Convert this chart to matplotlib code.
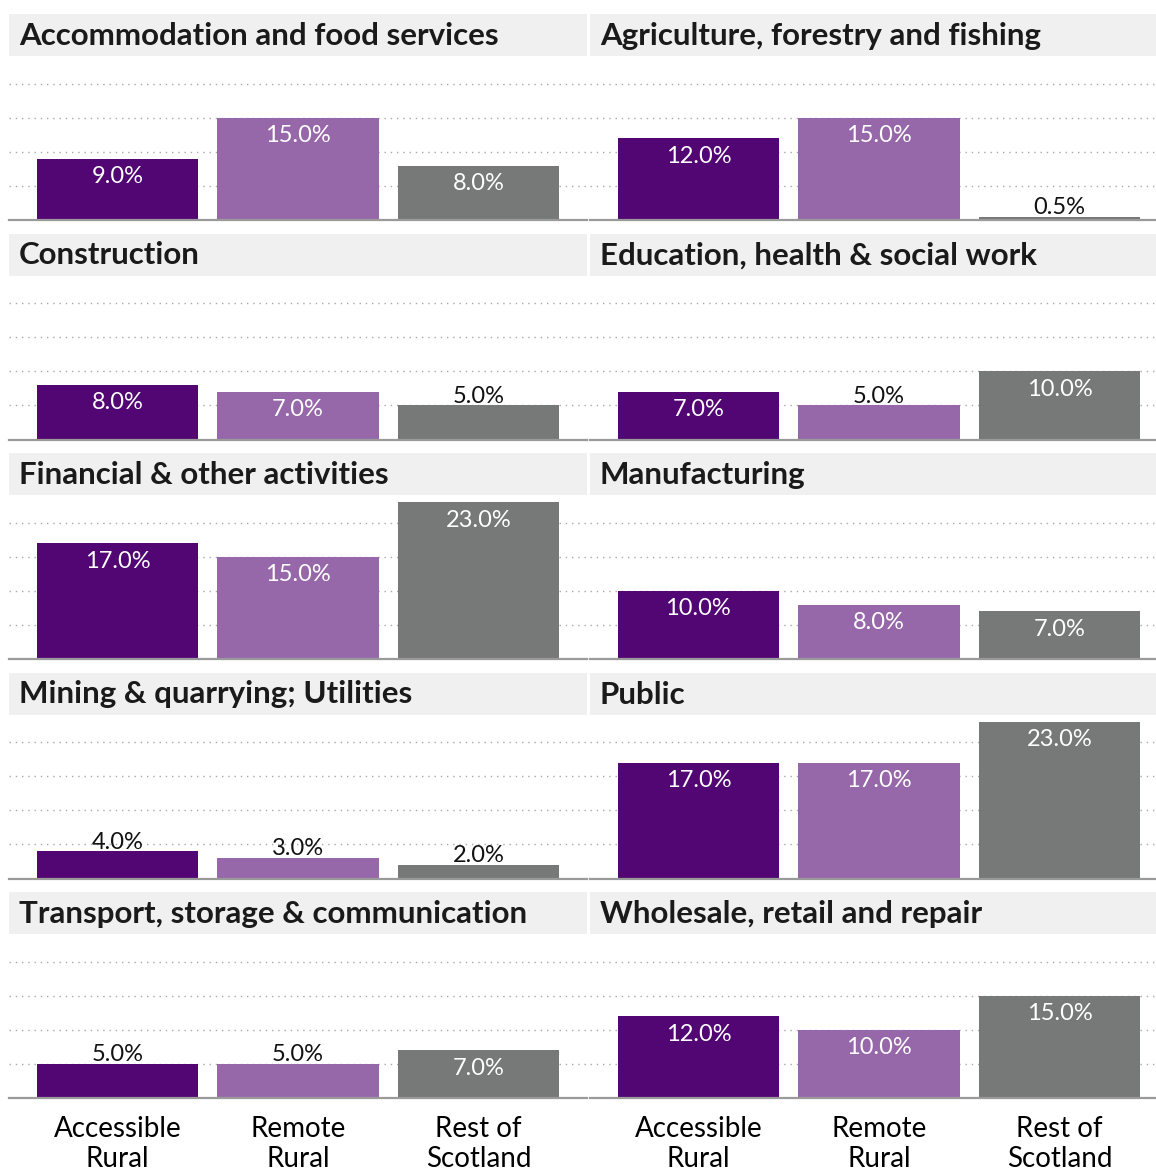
"""
Small multiples: share of employment by sector, rural vs rest of Scotland.
"""

import matplotlib.pyplot as plt
from matplotlib.patches import Rectangle

DARK = "#520673"
LILAC = "#9768A9"
GREY = "#767978"
BAND = "#F0F0F0"

plt.rcParams["font.family"] = ["Lato", "DejaVu Sans"]

areas = ["Accessible\nRural", "Remote\nRural", "Rest of\nScotland"]

sectors = [
    "Accommodation and food services",
    "Agriculture, forestry and fishing",
    "Construction",
    "Education, health & social work",
    "Financial & other activities",
    "Manufacturing",
    "Mining & quarrying; Utilities",
    "Public",
    "Transport, storage & communication",
    "Wholesale, retail and repair",
]

accessible_rural = [9.0, 12.0, 8.0, 7.0, 17.0, 10.0, 4.0, 17.0, 5.0, 12.0]
remote_rural = [15.0, 15.0, 7.0, 5.0, 15.0, 8.0, 3.0, 17.0, 5.0, 10.0]
rest_of_scotland = [8.0, 0.5, 5.0, 10.0, 23.0, 7.0, 2.0, 23.0, 7.0, 15.0]

W, H = 1156, 1173


def main():
    fig = plt.figure(figsize=(W / 100, H / 100), dpi=100)
    colors = [DARK, LILAC, GREY]
    row_pitch = 219.5
    for i, sector in enumerate(sectors):
        row, col = divmod(i, 2)
        left = 9 if col == 0 else 590
        width = 578
        band_top = 14 + row_pitch * row
        band_bot = 56 + row_pitch * row
        base = 220 + row_pitch * row

        ax = fig.add_axes([left / W, 1 - base / H, width / W, (base - band_bot) / H])
        vals = [accessible_rural[i], remote_rural[i], rest_of_scotland[i]]
        ax.bar(range(3), vals, width=0.895, color=colors, zorder=2)
        ax.set_xlim(-0.6, 2.6)
        ax.set_ylim(0, 24.1)
        for g in [5, 10, 15, 20]:
            ax.axhline(g, color="#A8A8A8", lw=1, ls=(0, (1, 3.5)), zorder=1)
        ax.axhline(0, color="#9A9A9A", lw=1.6, zorder=3, clip_on=False)
        for s in ax.spines.values():
            s.set_visible(False)
        ax.set_yticks([])
        if row == 4:
            ax.set_xticks(range(3))
            ax.set_xticklabels(areas, fontsize=20, linespacing=1.2)
            ax.tick_params(axis="x", length=0, pad=13)
        else:
            ax.set_xticks([])

        for k, v in enumerate(vals):
            if v > 5.5:
                ax.annotate(f"{v:.1f}%", (k, v), xytext=(0, -17.5), textcoords="offset points",
                            ha="center", va="baseline", color="white", fontsize=17)
            else:
                ax.annotate(f"{v:.1f}%", (k, v), xytext=(0, 2), textcoords="offset points",
                            ha="center", va="baseline", color="#111111", fontsize=17)

        # title band
        fig.patches.append(Rectangle((left / W, 1 - band_bot / H), width / W,
                                     (band_bot - band_top) / H, transform=fig.transFigure,
                                     facecolor=BAND, edgecolor="none", zorder=0))
        fig.text((left + 10) / W, 1 - (45 + row_pitch * row) / H, sector,
                 fontsize=22.5, fontweight="bold", color="#1A1A1A", va="baseline", ha="left")

    fig.savefig("out.png", dpi=100)


if __name__ == "__main__":
    main()
